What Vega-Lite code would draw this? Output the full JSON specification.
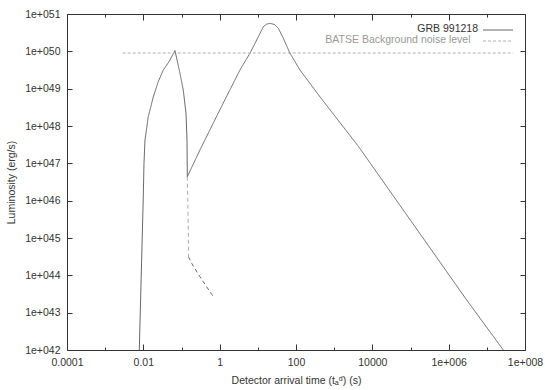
{
  "$schema": "https://vega.github.io/schema/vega-lite/v6.json",
  "width": 458,
  "height": 336,
  "autosize": {"type": "none"},
  "padding": {"left": 67, "top": 14, "right": 20, "bottom": 40},
  "background": "white",
  "config": {
    "font": "Liberation Sans",
    "view": {"stroke": "#333", "strokeWidth": 1},
    "axis": {
      "grid": false,
      "domain": false,
      "tickColor": "#333",
      "labelColor": "#333",
      "labelFont": "Liberation Sans",
      "labelFontSize": 10.5,
      "titleFont": "Liberation Sans",
      "titleFontSize": 10.5,
      "titleFontWeight": "normal",
      "titleColor": "#333"
    },
    "legend": {
      "orient": "none",
      "legendX": 425.5,
      "symbolType": "M-3,0.3H3",
      "symbolSize": 100,
      "symbolStrokeWidth": 1,
      "labelAlign": "right",
      "labelOffset": -25.5,
      "labelFont": "Liberation Sans",
      "labelFontSize": 10.5,
      "rowPadding": 0,
      "labelLimit": 300
    }
  },
  "datasets": {
    "curve": [
      {"series": "GRB 991218", "t": 0.00783, "L": 1e42},
      {"series": "GRB 991218", "t": 0.00997, "L": 1.26e46},
      {"series": "GRB 991218", "t": 0.0104, "L": 1.0e47},
      {"series": "GRB 991218", "t": 0.01104, "L": 4.17e47},
      {"series": "GRB 991218", "t": 0.01349, "L": 1.78e48},
      {"series": "GRB 991218", "t": 0.01824, "L": 6.03e48},
      {"series": "GRB 991218", "t": 0.02466, "L": 1.55e49},
      {"series": "GRB 991218", "t": 0.03334, "L": 3.16e49},
      {"series": "GRB 991218", "t": 0.04699, "L": 5.25e49},
      {"series": "GRB 991218", "t": 0.06745, "L": 1.05e50},
      {"series": "GRB 991218", "t": 0.0912, "L": 2.57e49},
      {"series": "GRB 991218", "t": 0.1114, "L": 9.12e48},
      {"series": "GRB 991218", "t": 0.1312, "L": 2.19e48},
      {"series": "GRB 991218", "t": 0.1393, "L": 4.22e47},
      {"series": "GRB 991218", "t": 0.1419, "L": 4.37e46},
      {"series": "GRB 991218", "t": 0.3048, "L": 2.29e47},
      {"series": "GRB 991218", "t": 1.02, "L": 2.75e48},
      {"series": "GRB 991218", "t": 3.4, "L": 3.16e49},
      {"series": "GRB 991218", "t": 6.22, "L": 8.91e49},
      {"series": "GRB 991218", "t": 8.6, "L": 1.7e50},
      {"series": "GRB 991218", "t": 11.38, "L": 3.02e50},
      {"series": "GRB 991218", "t": 13.9, "L": 4.57e50},
      {"series": "GRB 991218", "t": 17, "L": 5.35e50},
      {"series": "GRB 991218", "t": 20.8, "L": 5.62e50},
      {"series": "GRB 991218", "t": 27, "L": 5.25e50},
      {"series": "GRB 991218", "t": 34.4, "L": 4.17e50},
      {"series": "GRB 991218", "t": 46.5, "L": 2.24e50},
      {"series": "GRB 991218", "t": 69.5, "L": 8.91e49},
      {"series": "GRB 991218", "t": 127, "L": 3.16e49},
      {"series": "GRB 991218", "t": 425, "L": 6.03e48},
      {"series": "GRB 991218", "t": 4285, "L": 2.88e47},
      {"series": "GRB 991218", "t": 2960000, "L": 2.19e43},
      {"series": "GRB 991218", "t": 27000000, "L": 1e42},
      {"series": "tail1", "t": 0.1419, "L": 4.37e46},
      {"series": "tail1", "t": 0.1462, "L": 1.05e46},
      {"series": "tail1", "t": 0.1507, "L": 1.62e45},
      {"series": "tail1", "t": 0.1524, "L": 3.16e44},
      {"series": "tail2", "t": 0.1524, "L": 3.16e44},
      {"series": "tail2", "t": 0.1849, "L": 2.09e44},
      {"series": "tail2", "t": 0.3048, "L": 9.12e43},
      {"series": "tail2", "t": 0.681, "L": 2.69e43}
    ],
    "batse": [
      {"series": "BATSE Background noise level", "t": 0.00288, "L": 9.0e49},
      {"series": "BATSE Background noise level", "t": 49000000, "L": 9.0e49}
    ]
  },
  "layer": [
    {
      "data": {"name": "curve"},
      "mark": {"type": "line", "strokeWidth": 1, "clip": true},
      "encoding": {
        "x": {
          "field": "t",
          "type": "quantitative",
          "scale": {"type": "log", "domain": [0.0001, 100000000], "nice": false},
          "axis": {
            "orient": "bottom",
            "values": [0.0001, 0.001, 0.01, 0.1, 1, 10, 100, 1000, 10000, 100000, 1000000, 10000000, 100000000],
            "labelExpr": "round(log(datum.value)/LN10) == -4 ? '0.0001' : round(log(datum.value)/LN10) == -2 ? '0.01' : round(log(datum.value)/LN10) == 0 ? '1' : round(log(datum.value)/LN10) == 2 ? '100' : round(log(datum.value)/LN10) == 4 ? '10000' : round(log(datum.value)/LN10) == 6 ? '1e+006' : round(log(datum.value)/LN10) == 8 ? '1e+008' : ''",
            "tickSize": {"condition": {"test": "round(log(datum.value)/LN10) % 2 != 0", "value": -3}, "value": -6},
            "labelPadding": 13,
            "labelFlush": false,
            "labelOverlap": false,
            "title": "Detector arrival time (tₐᵈ) (s)",
            "titlePadding": 5
          }
        },
        "y": {
          "field": "L",
          "type": "quantitative",
          "scale": {"type": "log", "domain": [1e42, 1e51], "nice": false},
          "axis": {
            "orient": "left",
            "values": [1e42, 1e43, 1e44, 1e45, 1e46, 1e47, 1e48, 1e49, 1e50, 1e51],
            "labelExpr": "'1e+0' + round(log(datum.value)/LN10)",
            "tickSize": -5,
            "labelPadding": 12,
            "labelFlush": false,
            "labelOverlap": false,
            "title": "Luminosity (erg/s)",
            "titlePadding": 8
          }
        },
        "color": {
          "field": "series",
          "type": "nominal",
          "scale": {
            "domain": ["GRB 991218", "BATSE Background noise level", "tail1", "tail2"],
            "range": ["#666666", "#b0b0b0", "#aaaaaa", "#666666"]
          },
          "legend": {
            "values": ["GRB 991218"],
            "title": null,
            "legendY": 9,
            "labelColor": "#333333"
          }
        },
        "strokeDash": {
          "field": "series",
          "type": "nominal",
          "scale": {
            "domain": ["BATSE Background noise level", "GRB 991218", "tail1", "tail2"],
            "range": [[3, 2], [1, 0], [4, 3], [4, 3]]
          },
          "legend": {
            "values": ["BATSE Background noise level"],
            "title": null,
            "legendY": 20,
            "labelOffset": -33,
            "labelColor": "#999999",
            "symbolStrokeColor": "#b0b0b0"
          }
        }
      }
    },
    {
      "data": {"name": "batse"},
      "mark": {"type": "line", "strokeWidth": 1, "clip": true},
      "encoding": {
        "x": {
          "field": "t",
          "type": "quantitative",
          "scale": {"type": "log", "domain": [0.0001, 100000000], "nice": false},
          "axis": {
            "orient": "top",
            "values": [0.0001, 0.001, 0.01, 0.1, 1, 10, 100, 1000, 10000, 100000, 1000000, 10000000, 100000000],
            "labels": false,
            "tickSize": {"condition": {"test": "round(log(datum.value)/LN10) % 2 != 0", "value": -3}, "value": -6},
            "title": null
          }
        },
        "y": {
          "field": "L",
          "type": "quantitative",
          "scale": {"type": "log", "domain": [1e42, 1e51], "nice": false},
          "axis": {
            "orient": "right",
            "values": [1e42, 1e43, 1e44, 1e45, 1e46, 1e47, 1e48, 1e49, 1e50, 1e51],
            "labels": false,
            "tickSize": -5,
            "title": null
          }
        },
        "color": {"field": "series", "type": "nominal"},
        "strokeDash": {"field": "series", "type": "nominal"}
      }
    }
  ]
}
